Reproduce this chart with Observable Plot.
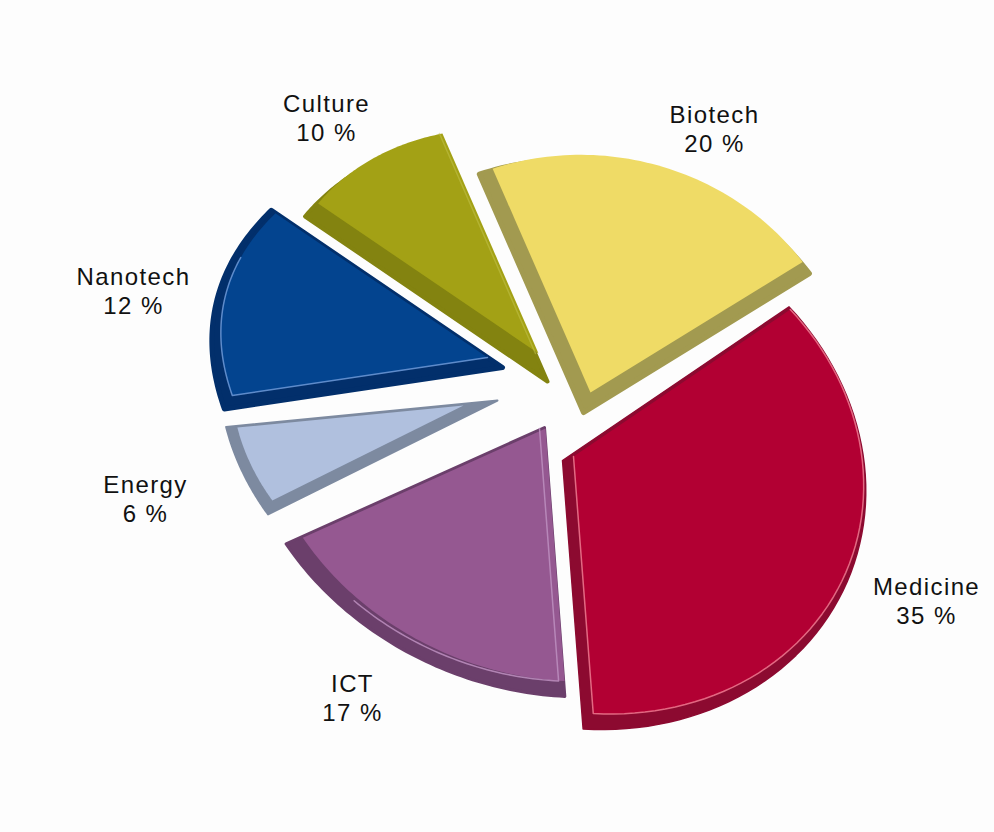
<!DOCTYPE html>
<html>
<head>
<meta charset="utf-8">
<script src="https://cdn.jsdelivr.net/npm/d3@7"></script>
<script src="https://cdn.jsdelivr.net/npm/@observablehq/plot@0.6"></script>
<style>
  html, body { margin: 0; padding: 0; background: #fdfdfd; }
  svg { display: block; }
</style>
</head>
<body>
<div id="chart"></div>
<script>
// Share of activity by field, in percent.
const fields = ["Medicine", "ICT", "Energy", "Nanotech", "Culture", "Biotech"];
const shares = [35, 17, 6, 12, 10, 20];

// Fill colours for the top face, the bevel and the thin lit edge.
const faceColors = ["#b20033", "#955891", "#b0c0de", "#03448f", "#a3a115", "#efdb66"];
const bevelColors = ["#8c0a30", "#6b3f6b", "#7d8aa0", "#022f6b", "#838310", "#a29a50"];
const edgeColors = ["#ee7a90", "#bd8fc0", null, "#6f9ad8", "#c6c650", null];

// Which borders of a face carry the lit edge, and how far it sits inside the border.
const edgeRuns = ["arc-end", "start-arc", null, "start-arc", "end", null];
const edgeInset = [0, -6, 0, 0, -3, 0];
const edgeOpacity = [0.85, 0.85, 0, 0.85, 0.5, 0];

// Tilted, exploded view of each wedge: apex, radii, shear of the tilt, small turn in degrees,
// and how much the rim swells midway along the arc.
const apexX = [573, 545, 463, 487, 538, 590];
const apexY = [456, 428, 405, 357, 353, 392];
const radiusX = [283, 288, 232, 258, 261, 273];
const radiusY = [256, 251, 202, 254, 222, 232];
const shear = [0.081, 0.107, 0.102, -0.002, 0.141, 0.073];
const turn = [0, 0.2, -1.7, 2.7, 0.4, 1];
const swell = [0.03, 0, 0, 0.045, 0, 0.03];

// The bevel is the face grown and shifted, with softly rounded corners.
const bevelGrow = [1.045, 1.065, 1.2, 1.09, 1.1, 1.065];
const bevelShiftX = [-11, -1, 34, 15, 9, -7];
const bevelShiftY = [4, -1, -5, 10, 28, 20];
const bevelRound = [1.5, 3, 2, 5, 4, 5];

// Label anchors.
const labelX = [926, 352, 145, 133, 326, 714];
const labelY = [600, 697, 498, 290, 117, 128];

const firstAngle = 50 * Math.PI / 180;
const wedges = d3.pie().sort(null).startAngle(firstAngle).endAngle(firstAngle + 2 * Math.PI)(shares);

function arcPoints(i) {
  const w = wedges[i];
  const t = turn[i] * Math.PI / 180;
  return d3.range(0, 61).map((k) => {
    const a = w.startAngle + t + (w.endAngle - w.startAngle) * k / 60;
    const r = 1 + swell[i] * Math.sin(Math.PI * k / 60);
    const u = r * radiusX[i] * Math.sin(a);
    const v = r * (-radiusY[i] * Math.cos(a)) + shear[i] * u;
    return {u, v};
  });
}

const toFace = (i) => (p) => ({x: apexX[i] + p.u, y: apexY[i] + p.v});
const toEdge = (i) => (p) => ({x: apexX[i] + edgeInset[i] + p.u, y: apexY[i] + p.v});
const toBevel = (i) => (p) => ({
  x: apexX[i] + bevelShiftX[i] + bevelGrow[i] * p.u,
  y: apexY[i] + bevelShiftY[i] + bevelGrow[i] * p.v
});
const apexPoint = {u: 0, v: 0};

const marks = [];
fields.forEach((name, i) => {
  const arc = arcPoints(i);
  const outline = [apexPoint, ...arc];
  marks.push(Plot.line(outline.map(toBevel(i)), {
    x: "x", y: "y", curve: "linear-closed",
    fill: bevelColors[i], stroke: bevelColors[i], strokeWidth: bevelRound[i], strokeLinejoin: "round"
  }));
  marks.push(Plot.line(outline.map(toFace(i)), {
    x: "x", y: "y", curve: "linear-closed",
    fill: faceColors[i], stroke: "none"
  }));
  const run = edgeRuns[i];
  if (run) {
    const path = run === "arc-end" ? [...arc, apexPoint]
      : run === "start-arc" ? [apexPoint, ...arc.slice(0, 44)]
      : [apexPoint, arc[arc.length - 1]];
    marks.push(Plot.line(path.map(toEdge(i)), {
      x: "x", y: "y", stroke: edgeColors[i], strokeWidth: 1.5, strokeOpacity: edgeOpacity[i]
    }));
  }
});

marks.push(Plot.text(fields.map((name, i) => ({name, share: shares[i], x: labelX[i], y: labelY[i]})), {
  x: "x", y: "y",
  text: (d) => `${d.name}\n${d.share} %`,
  textAnchor: "middle",
  lineHeight: 1.2,
  fontSize: 24,
  fill: "#111"
}));

const chart = Plot.plot({
  width: 994,
  height: 832,
  margin: 0,
  x: {domain: [0, 994], range: [0, 994], axis: null},
  y: {domain: [0, 832], range: [0, 832], axis: null},
  style: {background: "#fdfdfd", fontFamily: "'Liberation Sans', Arial, sans-serif", letterSpacing: "1.4px"},
  marks
});
document.getElementById("chart").append(chart);
</script>
</body>
</html>
